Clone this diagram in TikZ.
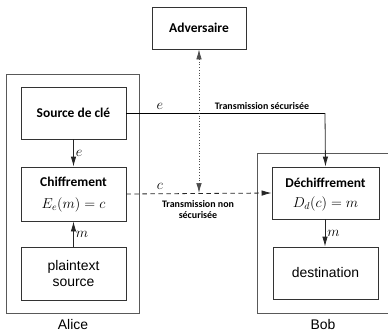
\documentclass[tikz,border=0pt]{standalone}
\usepackage{fontspec}
\setmainfont{Liberation Sans}
\newfontfamily\titlefont{Carlito}
\usetikzlibrary{arrows.meta}
\begin{document}
\begin{tikzpicture}[x=1bp,y=-1bp,
  line width=0.8bp,
  frame/.style={draw=black!65, line width=1bp, inner sep=0pt},
  block/.style={draw=black!80, inner sep=0pt, minimum width=105bp, align=center},
  title/.style={font=\titlefont\bfseries\fontsize{13.5}{15}\selectfont},
  plain/.style={font=\fontsize{14}{18}\selectfont},
  mathlbl/.style={font=\fontsize{14}{16}\selectfont},
  small/.style={font=\titlefont\bfseries\fontsize{10}{11.5}\selectfont, align=center},
  arr/.style={-{Latex[length=10bp,width=5.5bp]}, draw=black!85},
]
\useasboundingbox (0,0) rectangle (388,333);

% outer frames
\node[frame, minimum width=132bp, minimum height=239bp] (alice) at (73,193.5) {};
\node[frame, minimum width=140bp, minimum height=160bp] (bob) at (328,233) {};
\node[plain] (alicel) at (73,325) {Alice};
\node[plain] (bobl) at (323,325) {Bob};

% Alice's blocks
\node[block, minimum height=52bp, title] (src) at (73.5,113) {Source de clé};
\node[block, minimum height=54bp] (enc) at (73.5,194) {};
\node[title] (enct) at (73.5,182) {Chiffrement};
\node[mathlbl] (encm) at (73.5,205) {$E_e(m)=c$};
\node[block, minimum height=53bp, plain, text width=100bp] (pt) at (73.5,273.5) {plaintext\\[-1bp]source};

% Bob's blocks
\node[block, minimum width=107bp, minimum height=52bp] (dec) at (325.5,193) {};
\node[title] (dect) at (325.5,183) {Déchiffrement};
\node[mathlbl] (decm) at (325.5,204) {$D_d(c)=m$};
\node[block, minimum height=52bp, plain] (dst) at (325.5,273) {destination};

% adversary
\node[block, minimum width=94bp, minimum height=42bp, title] (adv) at (199,28) {Adversaire};

% connectors
\coordinate (corner) at (325,113);
\draw (src.east) -- (corner);
\draw[arr] (corner) -- (dec.north);
\node[mathlbl] (ekey) at (160,106) {$e$};
\node[small] (sec) at (262,106) {Transmission sécurisée};

\draw[arr] (src.south) -- node[right, mathlbl, inner sep=2bp] {$e$} (enc.north);
\draw[arr] (pt.north) -- node[right, mathlbl, inner sep=2bp] {$m$} (enc.south);
\draw[arr] (dec.south -| corner) -- node[right, mathlbl, inner sep=2bp] {$m$} (dst.north -| corner);

\draw[arr, dashed, dash pattern=on 4.5bp off 3.5bp] (enc.east) -- (dec.west);
\node[mathlbl] (clbl) at (160,186.5) {$c$};
\node[small] (insec) at (198,209.5) {Transmission non\\sécurisée};

\coordinate (tap) at (199,193);
\draw[arr, dotted, draw=black!70, line width=0.7bp, {Latex[length=10bp,width=5.5bp]}-{Latex[length=10bp,width=5.5bp]}] (adv.south) -- (tap);
\end{tikzpicture}
\end{document}
